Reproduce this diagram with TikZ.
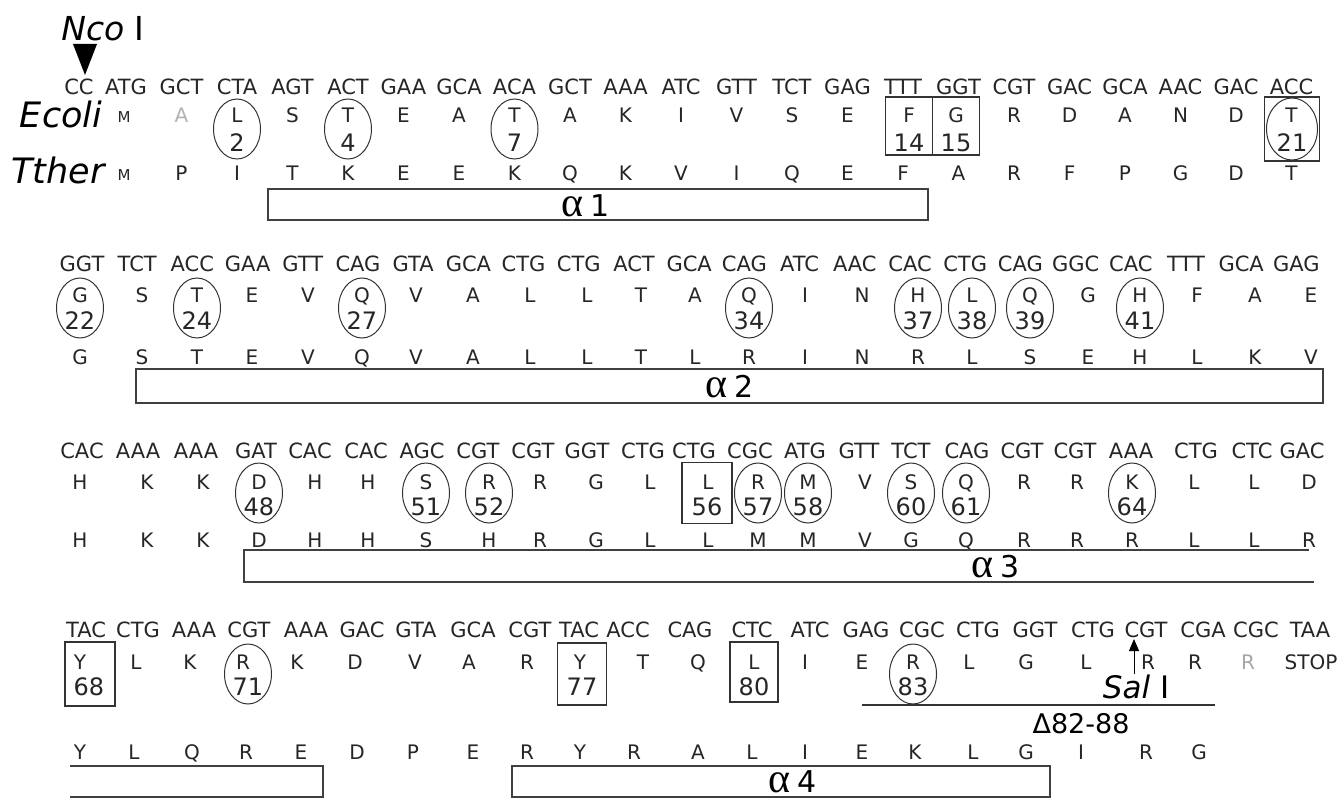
\documentclass[tikz,border=0pt]{standalone}
\usepackage{fontspec}
\setmainfont{DejaVu Sans}
\newfontfamily\greekserif{Liberation Serif}
\usetikzlibrary{shapes.geometric,arrows.meta}
\newcommand{\helixlab}[1]{{\greekserif\fontsize{42}{42}\selectfont α}\kern7pt{\fontsize{30}{30}\selectfont #1}}
\tikzset{
  codon/.style={inner sep=0pt, font=\fontsize{21}{21}\selectfont, text height=15.3pt, text depth=0pt, text=black!85},
  res/.style={inner sep=0pt, font=\fontsize{20}{20}\selectfont, text height=14.6pt, text depth=0pt, text=black!85},
  smallres/.style={inner sep=0pt, font=\fontsize{15}{15}\selectfont, text height=10.9pt, text depth=0pt, text=black!85},
  num/.style={inner sep=0pt, font=\fontsize{24}{24}\selectfont, text height=17.5pt, text depth=0pt, text=black!85},
  ring/.style={draw=black!80, ellipse, minimum width=47pt, minimum height=60pt, inner sep=0pt, line width=1pt},
  sqbox/.style={draw=black!80, rectangle, minimum width=48pt, minimum height=60pt, inner sep=0pt, line width=1.1pt},
  helixbox/.style={draw=black!75, rectangle, inner sep=0pt, line width=1.5pt},
  helixline/.style={draw=black!75, line width=1.5pt},
  species/.style={inner sep=0pt, font=\fontsize{35}{35}\selectfont\itshape, text height=25.5pt, text depth=0pt},
  sitelab/.style={inner sep=0pt, font=\fontsize{33}{33}\selectfont, text height=24pt, text depth=0pt},
  lab/.style={inner sep=0pt, anchor=base}
}
\begin{document}
\begin{tikzpicture}[x=1pt,y=-1pt]
\fill[white] (0,0) rectangle (1344,800);
\useasboundingbox (0,0) rectangle (1344,800);

% ---------- Nco I ----------
\node[sitelab] (nco) at (103,29) {\itshape Nco\upshape\ I};
\fill[black] (73,44) -- (97,44) -- (85,75) -- cycle;

% ---------- Row 1 ----------
\node[species] (ecoli) at (61,115) {Ecoli};
\node[species] (tther) at (58,171) {Tther};
\node[codon] (cc) at (79,87) {CC};
\foreach \t [count=\i from 0] in {ATG,GCT,CTA,AGT,ACT,GAA,GCA,ACA,GCT,AAA,ATC,GTT,TCT,GAG,TTT,GGT,CGT,GAC,GCA,AAC,GAC,ACC}
  \node[codon] (ca\i) at ({126+55.5*\i},87) {\t};
\node[smallres] (ea0) at (124,117) {M};
\node[res, text=black!30] (ea1) at (181.5,115) {A};
\foreach \t [count=\i from 2] in {L,S,T,E,A,T,A,K,I,V,S,E}
  \node[res] (ea\i) at ({126+55.5*\i},115) {\t};
\foreach \t [count=\i from 16] in {R,D,A,N,D,T}
  \node[res] (ea\i) at ({126+55.5*\i},115) {\t};
\node[res] (ea14) at (909,115) {F};
\node[res] (ea15) at (956,115) {G};
\foreach \i/\n in {2/2,4/4,7/7}{
  \node[ring] (ra\n) at ({126+55.5*\i},129) {};
  \node[num] (na\n) at ({126+55.5*\i},143) {\n};
}
\node[sqbox, minimum width=47pt, minimum height=58pt] (ba14) at (909,126) {};
\node[sqbox, minimum width=47pt, minimum height=58pt] (ba15) at (956,126) {};
\node[num] (na14) at (909,143) {14};
\node[num] (na15) at (956,143) {15};
\node[sqbox, minimum width=55pt, minimum height=64pt] (ba21) at (1292,129) {};
\node[ring, minimum width=51pt, minimum height=62pt] (ra21) at (1292,129) {};
\node[num] (na21) at (1292,143) {21};
\node[smallres] (ta0) at (124,175) {M};
\foreach \t [count=\i from 1] in {P,I,T,K,E,E,K,Q,K,V,I,Q,E,F,A,R,F,P,G,D,T}
  \node[res] (ta\i) at ({126+55.5*\i},173) {\t};
\node[helixbox, minimum width=660pt, minimum height=31pt] (h1) at (598,204.5) {};
\node[lab] (h1l) at (586,216) {\helixlab{1}};

% ---------- Row 2 ----------
\foreach \t [count=\i from 0] in {GGT,TCT,ACC,GAA,GTT,CAG,GTA,GCA,CTG,CTG,ACT,GCA,CAG,ATC,AAC,CAC,CTG,CAG,GGC,CAC,TTT,GCA,GAG}
  \node[codon] (cb\i) at ({82+55.2*\i},264) {\t};
\foreach \t/\x [count=\i from 0] in {G/80,S/142,T/197,E/252,V/308,Q/362,V/416,A/473,L/530,L/587,T/641,A/695,Q/749,I/805,N/862,H/918,L/972,Q/1030,G/1088,H/1140,F/1197,A/1255,E/1311}
  \node[res] (eb\i) at (\x,295) {\t};
\foreach \t/\x [count=\i from 0] in {G/80,S/142,T/197,E/252,V/308,Q/362,V/416,A/473,L/530,L/587,T/641,L/695,R/749,I/805,N/862,R/918,L/972,S/1030,E/1088,H/1140,L/1197,K/1255,V/1311}
  \node[res] (tb\i) at (\x,357) {\t};
\foreach \x/\n in {80/22,197/24,362/27,749/34,918/37,972/38,1030/39,1140/41}{
  \node[ring] (rb\n) at (\x,308) {};
  \node[num] (nb\n) at (\x,321) {\n};
}
\node[helixbox, minimum width=1187pt, minimum height=34pt] (h2) at (729.5,386) {};
\node[lab] (h2l) at (730,397) {\helixlab{2}};

% ---------- Row 3 ----------
\foreach \t/\x [count=\i from 0] in {CAC/82,AAA/138,AAA/196,GAT/256,CAC/310,CAC/366,AGC/422,CGT/478,CGT/533,GGT/587,CTG/643,CTG/694,CGC/750,ATG/805,GTT/859,TCT/911,CAG/967,CGT/1022,CGT/1075,AAA/1131,CTG/1196,CTC/1252,GAC/1302}
  \node[codon] (cc\i) at (\x,451) {\t};
\foreach \t/\x [count=\i from 0] in {H/80,K/147,K/203,D/259,H/315,H/368,S/426,R/489,R/540,G/596,L/650,L/708,R/758,M/808,V/865,S/911,Q/966,R/1024,R/1077,K/1132,L/1194,L/1254,D/1309}
  \node[res] (ec\i) at (\x,482) {\t};
\foreach \t/\x [count=\i from 0] in {H/80,K/147,K/203,D/259,H/315,H/368,S/426,H/489,R/540,G/596,L/650,L/708,M/758,M/808,V/865,G/911,Q/966,R/1024,R/1077,R/1132,L/1194,L/1254,R/1309}
  \node[res] (tc\i) at (\x,540) {\t};
\foreach \x/\n in {259/48,426/51,489/52,758/57,808/58,911/60,966/61,1132/64}{
  \node[ring] (rc\n) at (\x,493) {};
  \node[num] (nc\n) at (\x,507) {\n};
}
\node[sqbox, minimum width=50pt, minimum height=61pt] (bc56) at (707,493) {};
\node[num] (nc56) at (707,507) {56};
\coordinate (h3a) at (1309,550);
\coordinate (h3b) at (244,550);
\coordinate (h3c) at (244,582);
\coordinate (h3d) at (1314,582);
\draw[helixline] (h3a) -- (h3b) -- (h3c) -- (h3d);
\node[lab] (h3l) at (996,577) {\helixlab{3}};

% ---------- Row 4 ----------
\foreach \t/\x [count=\i from 0] in {TAC/86,CTG/138,AAA/194,CGT/249,AAA/306,GAC/362,GTA/416,GCA/473,CGT/530,TAC/579,ACC/628,CAG/690,CTC/752,ATC/810,GAG/866,CGC/922,CTG/978,GGT/1035,CTG/1093,CGT/1146,CGA/1203,CGC/1256,TAA/1310}
  \node[codon] (cd\i) at (\x,630) {\t};
\foreach \t/\x [count=\i from 0] in {Y/80,L/136,K/190,R/243,K/297,D/355,V/415,A/469,R/527,Y/580,T/643,Q/698,L/754,I/805,E/862,R/913,L/969,G/1026,L/1086,R/1148,R/1195}
  \node[res] (ed\i) at (\x,662) {\t};
\node[res, text=black!35] (ed21) at (1248,662) {R};
\node[res] (ed22) at (1311,662) {STOP};
\foreach \t/\x [count=\i from 0] in {Y/80,L/134,Q/192,R/246,E/301,D/357,P/413,E/473,R/527,Y/580,R/634,A/698,L/752,I/805,E/862,K/915,L/973,G/1026,I/1081,R/1146,G/1199}
  \node[res] (td\i) at (\x,752) {\t};
\node[sqbox, minimum width=50pt, minimum height=64pt] (bd68) at (90,674) {};
\node[num] (nd68) at (89,687) {68};
\node[sqbox, minimum width=49pt, minimum height=62pt] (bd77) at (582,674) {};
\node[num] (nd77) at (582,687) {77};
\node[sqbox, minimum width=48pt, minimum height=60pt] (bd80) at (754,672) {};
\node[num] (nd80) at (754,687) {80};
\foreach \x/\n in {248/71,913/83}{
  \node[ring] (rd\n) at (\x,674) {};
  \node[num] (nd\n) at (\x,687) {\n};
}
% Sal I site
\coordinate (salfoot) at (1134,674);
\coordinate (saltip) at (1134,639);
\draw[line width=0.9pt, -{Triangle[length=12pt,width=10pt]}] (salfoot) -- (saltip);
\node[sitelab, font=\fontsize{31}{31}\selectfont, text height=22.6pt] (sal) at (1136,687) {\itshape Sal\upshape\ I};
\coordinate (dell) at (862,705);
\coordinate (delr) at (1215,705);
\draw[line width=1.3pt, draw=black!80] (dell) -- (delr);
\node[inner sep=0pt, font=\fontsize{27}{27}\selectfont, text height=19.7pt, text depth=0pt] (dellab) at (1081,724) {Δ82-88};
% helix 4
\coordinate (h4a) at (70,766);
\coordinate (h4b) at (323,766);
\coordinate (h4c) at (323,797);
\coordinate (h4d) at (70,797);
\draw[helixline] (h4a) -- (h4b) -- (h4c) -- (h4d);
\node[helixbox, minimum width=538pt, minimum height=31pt] (h4) at (781,781.5) {};
\node[lab] (h4l) at (793,792) {\helixlab{4}};
\end{tikzpicture}
\end{document}
